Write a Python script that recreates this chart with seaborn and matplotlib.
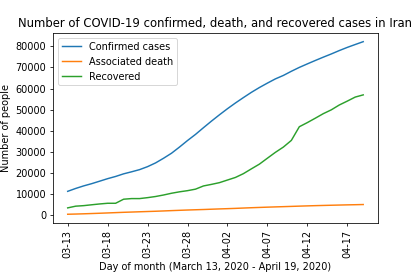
import matplotlib
matplotlib.use("Agg")
import matplotlib.pyplot as plt
import matplotlib.dates as mdates
import pandas as pd
import seaborn as sns

# Iran, March 13 - April 19, 2020
dates = pd.date_range("2020-03-13", "2020-04-19", freq="D")

confirmed = [11364, 12729, 13938, 14991, 16169, 17361, 18407, 19644, 20610, 21638,
             23049, 24811, 27017, 29406, 32332, 35408, 38309, 41495, 44605, 47593,
             50468, 53183, 55743, 58226, 60500, 62589, 64586, 66220, 68192, 70029,
             71686, 73303, 74877, 76389, 77995, 79494, 80868, 82211]
deaths = [514, 611, 724, 853, 988, 1135, 1284, 1433, 1556, 1685,
          1812, 1934, 2077, 2234, 2378, 2517, 2640, 2757, 2898, 3036,
          3160, 3294, 3452, 3603, 3739, 3872, 3993, 4110, 4232, 4357,
          4474, 4585, 4683, 4777, 4869, 4958, 5031, 5118]
recovered = [3529, 4339, 4590, 4996, 5389, 5710, 5710, 7635, 7931, 7931,
             8376, 8913, 9625, 10457, 11133, 11679, 12391, 13911, 14656, 15473,
             16711, 17935, 19736, 22011, 24236, 27039, 29812, 32309, 35465, 41947,
             43894, 45983, 48129, 49933, 52229, 54064, 55987, 57023]

series_names = ["Confirmed cases", "Associated death", "Recovered"]

df = pd.DataFrame({"date": dates,
                   series_names[0]: confirmed,
                   series_names[1]: deaths,
                   series_names[2]: recovered})
long_df = df.melt(id_vars="date", var_name="kind", value_name="count")

fig, ax = plt.subplots(figsize=(6, 4), dpi=70)
sns.lineplot(data=long_df, x="date", y="count", hue="kind", hue_order=series_names,
             palette=["tab:blue", "tab:orange", "tab:green"], ax=ax, linewidth=1.5)

ax.set_xticks(dates[::5])
ax.xaxis.set_major_formatter(mdates.DateFormatter("%m-%d"))
plt.setp(ax.get_xticklabels(), rotation=90)
ax.set_yticks(range(0, 80001, 10000))

ax.set_xlabel("Day of month (March 13, 2020 - April 19, 2020)")
ax.set_ylabel("Number of people")
ax.set_title("Number of COVID-19 confirmed, death, and recovered cases in Iran")
ax.legend(loc="upper left", title=None)

fig.subplots_adjust(left=0.126, right=0.9, top=0.882, bottom=0.204)
fig.savefig("out.png", dpi=70)
